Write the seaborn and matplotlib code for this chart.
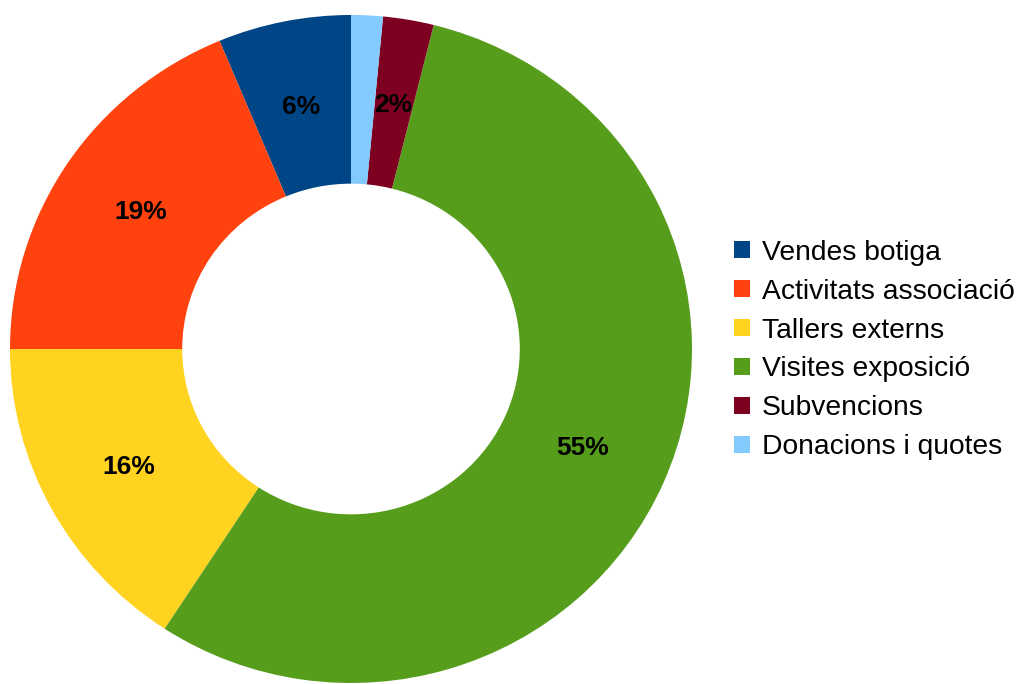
import matplotlib
matplotlib.use("Agg")
import matplotlib.pyplot as plt
import seaborn as sns

categories = [
    "Vendes botiga",
    "Activitats associació",
    "Tallers externs",
    "Visites exposició",
    "Subvencions",
    "Donacions i quotes",
]
shares = [6.3, 18.7, 15.8, 55.3, 2.4, 1.5]
show_label = [True, True, True, True, True, False]
colors = ["#004586", "#ff420e", "#ffd320", "#579d1c", "#7e0021", "#83caff"]

sns.set_theme(style="white")
plt.rcParams["font.family"] = ["Liberation Sans", "DejaVu Sans"]
plt.rcParams["text.color"] = "black"

fig = plt.figure(figsize=(10.23, 6.84), dpi=100)
ax = fig.add_axes([10 / 1023, 1 / 684, 682 / 1023, 668 / 684])

labels_iter = iter(show_label)


def pct_text(p):
    # hide the label for the tiniest slice, like the original
    return f"{p:.0f}%" if next(labels_iter) else ""


wedges, _, autotexts = ax.pie(
    shares,
    colors=colors,
    startangle=90,
    counterclock=True,
    autopct=pct_text,
    pctdistance=0.74,
    radius=1.0,
    wedgeprops=dict(width=0.505, edgecolor="none", linewidth=0),
    textprops=dict(fontsize=19, fontweight="bold", color="black"),
)
ax.set_aspect("auto")
ax.set_xlim(-1, 1)
ax.set_ylim(-1, 1)
ax.axis("off")

leg = fig.legend(
    wedges,
    categories,
    loc="center left",
    bbox_to_anchor=(734 / 1023, 1 - 350 / 684),
    frameon=False,
    fontsize=20.3,
    handlelength=0.57,
    handleheight=0.57,
    handletextpad=0.42,
    labelspacing=0.46,
    borderpad=0,
    borderaxespad=0,
)
for t in leg.get_texts():
    t.set_color("black")

fig.savefig("out.png", dpi=100)
